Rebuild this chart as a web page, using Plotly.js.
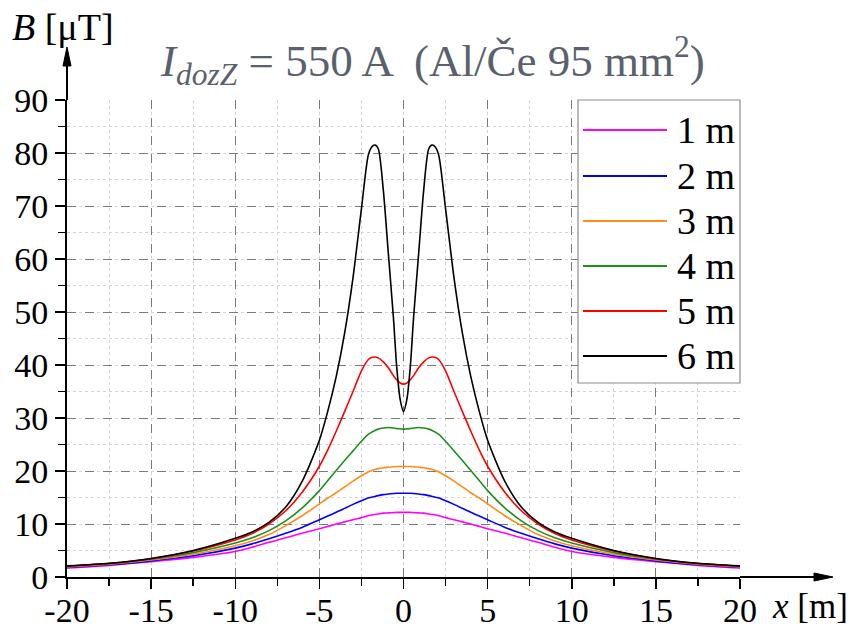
<!DOCTYPE html>
<html>
<head>
<meta charset="utf-8">
<script src="https://cdn.plot.ly/plotly-3.0.1.min.js"></script>
<style>html,body{margin:0;padding:0;background:#fff;}#chart{width:850px;height:627px;}</style>
</head>
<body>
<div id="chart"></div>
<script>
// Left-half x positions (m); the curves are symmetric and mirrored for x > 0
const xHalf = [-20, -17.5, -15, -12.5, -10, -9, -8, -7, -6, -5, -4.5, -4, -3.5, -3, -2.5, -2.1, -1.9, -1.7, -1.5, -1.2, -0.9, -0.6, -0.4, -0.2, 0];

const seriesNames = ["1 m", "2 m", "3 m", "4 m", "5 m", "6 m"];
const seriesColors = ["#ff00ff", "#0000ff", "#ff8c1a", "#1f8f1f", "#ff0000", "#000000"];

// B [µT] at xHalf
const b1m = [1.7, 2.2, 2.9, 3.7, 4.8, 5.6, 6.55, 7.4, 8.3, 9.1, 9.55, 10.0, 10.4, 10.8, 11.2, 11.55, 11.7, 11.8, 11.9, 12.05, 12.1, 12.15, 12.2, 12.2, 12.2];
const b2m = [1.8, 2.3, 3.05, 4.0, 5.45, 6.25, 7.2, 8.25, 9.4, 10.8, 11.5, 12.2, 12.95, 13.7, 14.4, 14.9, 15.05, 15.2, 15.35, 15.55, 15.65, 15.75, 15.8, 15.8, 15.8];
const b3m = [1.9, 2.4, 3.2, 4.3, 5.9, 6.8, 8.0, 9.7, 11.6, 13.8, 14.9, 15.9, 17.0, 18.1, 19.1, 19.8, 20.05, 20.3, 20.45, 20.6, 20.7, 20.8, 20.85, 20.85, 20.85];
const b4m = [2.0, 2.5, 3.35, 4.6, 6.4, 7.4, 8.75, 10.6, 13.1, 16.3, 18.2, 20.1, 22.0, 23.8, 25.6, 26.9, 27.3, 27.65, 27.9, 28.1, 28.2, 28.1, 28.0, 27.95, 27.9];
const b5m = [2.05, 2.55, 3.45, 4.9, 7.0, 8.2, 10.0, 12.5, 16.1, 20.9, 24.0, 27.5, 31.2, 35.0, 38.9, 41.0, 41.4, 41.5, 41.35, 40.6, 39.5, 38.0, 37.2, 36.6, 36.4];
const b6m = [2.1, 2.6, 3.5, 5.0, 7.3, 8.5, 10.3, 13.2, 18.2, 25.8, 31.3, 37.8, 46.0, 56.5, 69.5, 79.5, 81.1, 81.5, 80.8, 73.0, 61.0, 49.0, 39.5, 33.5, 31.2];
const seriesValues = [b1m, b2m, b3m, b4m, b5m, b6m];

const xTicks = [-20, -15, -10, -5, 0, 5, 10, 15, 20];
const yTicks = [0, 10, 20, 30, 40, 50, 60, 70, 80, 90];

function mirrorX(h) { const r = h.slice(0, -1).map(v => -v).reverse(); return h.concat(r); }
function mirrorY(h) { const r = h.slice(0, -1).reverse(); return h.concat(r); }

const xs = mirrorX(xHalf);
const traces = seriesValues.map((v, i) => ({
  x: xs, y: mirrorY(v), type: 'scatter', mode: 'lines', name: seriesNames[i],
  line: {color: seriesColors[i], width: 1.6, shape: 'spline', smoothing: 0.7},
  showlegend: false, hoverinfo: 'skip'
}));

const serif = "'Liberation Serif', 'Times New Roman', serif";
const L = 67, R = 110, T = 100, B = 50, W = 850, H = 627;
const pw = W - L - R, ph = H - T - B;
const px = p => (p - L) / pw;           // pixel -> paper x
const py = p => (H - B - p) / ph;       // pixel -> paper y

const shapes = [];
const annotations = [];

// legend box
shapes.push({type: 'rect', xref: 'paper', yref: 'paper', x0: px(578), x1: px(740), y0: py(383), y1: py(100),
  line: {color: '#8c8c8c', width: 1.2}, fillcolor: '#ffffff', layer: 'above'});
const rowY = [130, 176, 221, 266, 311, 356];
seriesNames.forEach((n, i) => {
  shapes.push({type: 'line', xref: 'paper', yref: 'paper', x0: px(583), x1: px(667), y0: py(rowY[i]), y1: py(rowY[i]),
    line: {color: seriesColors[i], width: 1.8}, layer: 'above'});
  annotations.push({xref: 'paper', yref: 'paper', x: px(675), y: py(rowY[i]), xanchor: 'left', yanchor: 'middle',
    text: n, showarrow: false, font: {family: serif, size: 38, color: '#000'}});
});

// axis arrows (extensions of the axis lines with filled heads)
shapes.push({type: 'line', xref: 'paper', yref: 'paper', x0: 0, x1: 0, y0: 1, y1: py(62), line: {color: '#000', width: 2}});
shapes.push({type: 'path', xref: 'paper', yref: 'paper',
  path: `M${px(67)},${py(47)} L${px(63)},${py(66)} L${px(71)},${py(66)} Z`, fillcolor: '#000', line: {color: '#000', width: 1}});
shapes.push({type: 'line', xref: 'paper', yref: 'paper', x0: 1, x1: px(818), y0: 0, y1: 0, line: {color: '#000', width: 2}});
shapes.push({type: 'path', xref: 'paper', yref: 'paper',
  path: `M${px(833)},${py(577)} L${px(814)},${py(573)} L${px(814)},${py(581)} Z`, fillcolor: '#000', line: {color: '#000', width: 1}});

// axis titles
annotations.push({xref: 'paper', yref: 'paper', x: px(10), y: py(27), xanchor: 'left', yanchor: 'middle',
  text: '<i>B</i> [μT]', showarrow: false, font: {family: serif, size: 38, color: '#000'}});
annotations.push({xref: 'paper', yref: 'paper', x: px(770), y: py(606), xanchor: 'left', yanchor: 'middle',
  text: '<i>x</i> [m]', showarrow: false, font: {family: serif, size: 35, color: '#000'}});

// title
annotations.push({xref: 'paper', yref: 'paper', x: px(432), y: py(60), xanchor: 'center', yanchor: 'middle',
  text: '<i>I</i><sub><i>dozZ</i></sub> = 550 A  (Al/Če 95 mm<sup>2</sup>)', showarrow: false,
  font: {family: serif, size: 45, color: '#5a616c'}});

const layout = {
  width: W, height: H,
  margin: {l: L, r: R, t: T, b: B, pad: 0},
  paper_bgcolor: '#fff', plot_bgcolor: '#fff',
  showlegend: false,
  xaxis: {
    range: [-20, 20], tickvals: xTicks, ticktext: xTicks.map(String),
    showgrid: true, gridcolor: '#7a7a7a', griddash: 'dash', gridwidth: 1,
    zeroline: false, showline: true, linecolor: '#000', linewidth: 2,
    ticks: 'outside', ticklen: 10, tickwidth: 1.5, tickcolor: '#000',
    ticklabelstandoff: -8,
    tickfont: {family: serif, size: 34, color: '#000'},
    minor: {dtick: 2.5, tick0: 0, ticks: 'outside', ticklen: 7, tickwidth: 1.5, tickcolor: '#000',
      showgrid: true, gridcolor: '#d4d4d4', griddash: 'dot', gridwidth: 1},
    fixedrange: true
  },
  yaxis: {
    range: [0, 90], tickvals: yTicks, ticktext: yTicks.map(String),
    showgrid: true, gridcolor: '#7a7a7a', griddash: 'dash', gridwidth: 1,
    zeroline: false, showline: true, linecolor: '#000', linewidth: 2,
    ticks: 'outside', ticklen: 10, tickwidth: 1.5, tickcolor: '#000',
    tickfont: {family: serif, size: 34, color: '#000'},
    minor: {dtick: 5, tick0: 0, ticks: 'outside', ticklen: 7, tickwidth: 1.5, tickcolor: '#000',
      showgrid: true, gridcolor: '#d4d4d4', griddash: 'dot', gridwidth: 1},
    fixedrange: true
  },
  shapes: shapes,
  annotations: annotations
};

Plotly.newPlot('chart', traces, layout, {staticPlot: true, displayModeBar: false});
</script>
</body>
</html>
